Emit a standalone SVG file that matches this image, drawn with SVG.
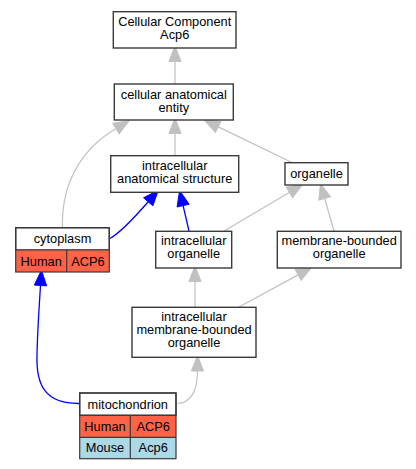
<svg xmlns="http://www.w3.org/2000/svg" width="416" height="469" viewBox="0 0 416 469">
<defs>
<style>
text{font-family:"Liberation Sans",Arial,sans-serif;font-size:12.8px;fill:#000;text-anchor:middle}
.box{fill:#fff;stroke:#3a3a3a;stroke-width:1.4}
.sep{stroke:#3a3a3a;stroke-width:1.2;fill:none}
.red{fill:#ff6347}
.blue{fill:#add8e6}
.eg{fill:none;stroke:#c0c0c0;stroke-width:1.2}
.eb{fill:none;stroke:#0000ff;stroke-width:1.3}
</style>
<marker id="ag" markerUnits="userSpaceOnUse" markerWidth="16" markerHeight="14" refX="0" refY="5.4" orient="auto" viewBox="0 0 14 10.8" overflow="visible">
<path d="M0,0 L13.5,5.4 L0,10.8 z" fill="#c0c0c0" stroke="#c0c0c0" stroke-width="0.8"/>
</marker>
<marker id="ab" markerUnits="userSpaceOnUse" markerWidth="16" markerHeight="14" refX="0" refY="5.4" orient="auto" viewBox="0 0 14 10.8" overflow="visible">
<path d="M0,0 L13.5,5.4 L0,10.8 z" fill="#0000ff" stroke="#0000ff" stroke-width="0.8"/>
</marker>
</defs>
<rect width="416" height="469" fill="#fff"/>
<g id="edges">
<path class="eg" marker-end="url(#ag)" d="M175,84 L175,61.5"/>
<path class="eg" marker-end="url(#ag)" d="M175,156 L175,133.5"/>
<path class="eg" marker-end="url(#ag)" d="M293,163 L218.2,126.9"/>
<path class="eg" marker-end="url(#ag)" d="M62.5,228 C61,185 80,150 116,128.6"/>
<path class="eb" marker-end="url(#ab)" d="M110,238.5 C118,234 135,217 148.2,201.8"/>
<path class="eb" marker-end="url(#ab)" d="M189,231 L183.1,205.6"/>
<path class="eg" marker-end="url(#ag)" d="M224,231 L289.4,192.4"/>
<path class="eg" marker-end="url(#ag)" d="M334,231 L324.7,198.5"/>
<path class="eg" marker-end="url(#ag)" d="M195,307 L195,281.5"/>
<path class="eg" marker-end="url(#ag)" d="M239,307 L298.1,274.9"/>
<path class="eg" marker-end="url(#ag)" d="M177.5,403.5 C190,403 197.5,392 197.5,371"/>
<path class="eb" marker-end="url(#ab)" d="M79.5,403.5 C45,404 36,385 37,355 C37.5,330 39,310 40.5,285.5"/>
</g>
<g id="node-cc">
<rect class="box" x="113.3" y="11.7" width="122.7" height="36.3"/>
<text x="174.7" y="25.5">Cellular Component</text>
<text x="174.7" y="38.5">Acp6</text>
</g>
<g id="node-cae">
<rect class="box" x="114.3" y="84" width="119" height="36"/>
<text x="173.8" y="98.5">cellular anatomical</text>
<text x="173.8" y="111.5">entity</text>
</g>
<g id="node-ias">
<rect class="box" x="110.7" y="155.7" width="128" height="36.6"/>
<text x="174.7" y="169.5">intracellular</text>
<text x="174.7" y="182.5">anatomical structure</text>
</g>
<g id="node-organelle">
<rect class="box" x="285" y="162.7" width="63" height="22.3"/>
<text x="316.5" y="178">organelle</text>
</g>
<g id="node-cytoplasm">
<rect class="box" x="15.7" y="227.7" width="93.6" height="22.3"/>
<rect class="red" x="15.7" y="250" width="93.6" height="22"/>
<rect class="sep" x="15.7" y="227.7" width="93.6" height="44.3" stroke-width="1.4"/>
<line class="sep" x1="15.7" y1="250" x2="109.3" y2="250"/>
<line class="sep" x1="66.7" y1="250" x2="66.7" y2="272"/>
<text x="62.5" y="243">cytoplasm</text>
<text x="41.2" y="265.5">Human</text>
<text x="88" y="265.5">ACP6</text>
</g>
<g id="node-io">
<rect class="box" x="155.7" y="231.3" width="76" height="36.7"/>
<text x="193.7" y="245">intracellular</text>
<text x="193.7" y="258">organelle</text>
</g>
<g id="node-mbo">
<rect class="box" x="277.3" y="231.3" width="123.7" height="36.7"/>
<text x="339.2" y="245">membrane-bounded</text>
<text x="339.2" y="258">organelle</text>
</g>
<g id="node-imbo">
<rect class="box" x="132" y="307.3" width="124" height="50"/>
<text x="194" y="320.7">intracellular</text>
<text x="194" y="333.7">membrane-bounded</text>
<text x="194" y="346.7">organelle</text>
</g>
<g id="node-mitochondrion">
<rect class="box" x="79.7" y="393" width="96.3" height="22.3"/>
<rect class="red" x="79.7" y="415.3" width="96.3" height="22"/>
<rect class="blue" x="79.7" y="437.3" width="96.3" height="21.4"/>
<rect class="sep" x="79.7" y="393" width="96.3" height="65.7" stroke-width="1.4"/>
<line class="sep" x1="79.7" y1="415.3" x2="176" y2="415.3"/>
<line class="sep" x1="79.7" y1="437.3" x2="176" y2="437.3"/>
<line class="sep" x1="130.3" y1="415.3" x2="130.3" y2="458.7"/>
<text x="127.8" y="408.5">mitochondrion</text>
<text x="105" y="430.5">Human</text>
<text x="153.2" y="430.5">ACP6</text>
<text x="105" y="452">Mouse</text>
<text x="153.2" y="452">Acp6</text>
</g>
</svg>
